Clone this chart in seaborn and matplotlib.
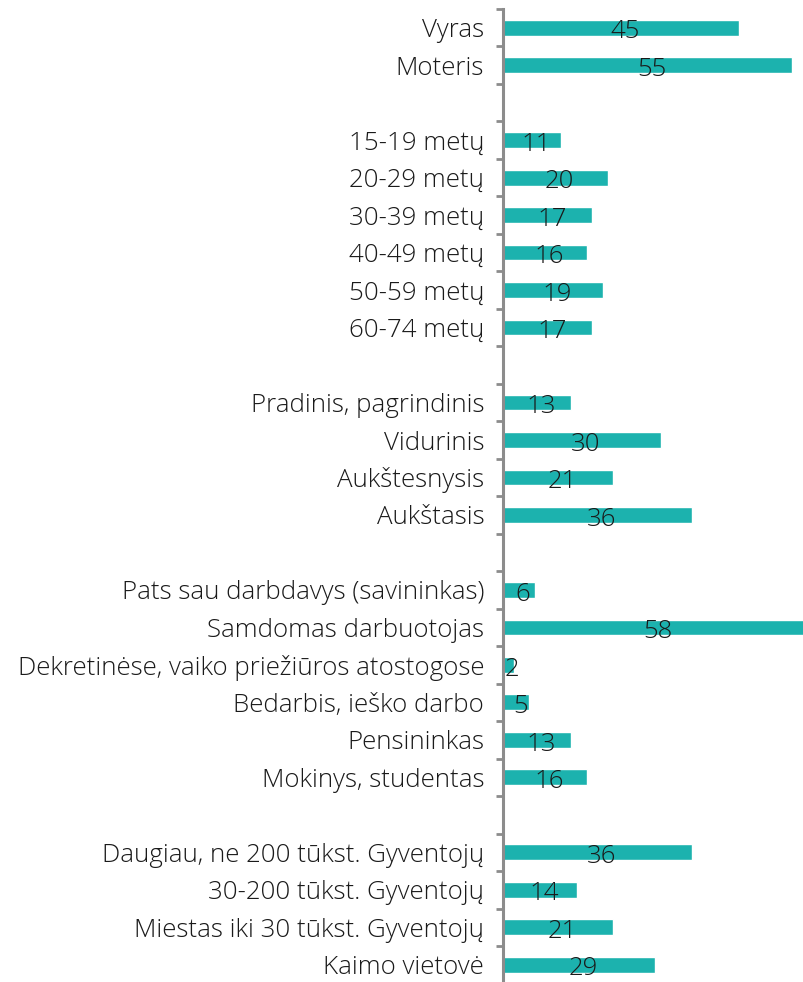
import matplotlib
matplotlib.use("Agg")
import matplotlib.pyplot as plt
import seaborn as sns
import pandas as pd
import numpy as np

categories = ["Vyras", "Moteris",
              "15-19 metų", "20-29 metų", "30-39 metų", "40-49 metų", "50-59 metų", "60-74 metų",
              "Pradinis, pagrindinis", "Vidurinis", "Aukštesnysis", "Aukštasis",
              "Pats sau darbdavys (savininkas)", "Samdomas darbuotojas",
              "Dekretinėse, vaiko priežiūros atostogose", "Bedarbis, ieško darbo",
              "Pensininkas", "Mokinys, studentas",
              "Daugiau, ne 200 tūkst. Gyventojų", "30-200 tūkst. Gyventojų",
              "Miestas iki 30 tūkst. Gyventojų", "Kaimo vietovė"]
values = [45, 55,
          11, 20, 17, 16, 19, 17,
          13, 30, 21, 36,
          6, 58, 2, 5, 13, 16,
          36, 14, 21, 29]
group_sizes = [2, 6, 4, 6, 4]

# order with blank separator rows
order = []
idx = 0
for g, n in enumerate(group_sizes):
    if g > 0:
        order.append(" " * g)
    order.extend(categories[idx:idx + n])
    idx += n

df = pd.DataFrame({"cat": categories, "val": values})

sns.set_theme(style="white")
plt.rcParams["font.family"] = ["Open Sans", "DejaVu Sans"]

fig = plt.figure(figsize=(8.04, 9.82), dpi=100)
ax = fig.add_axes([503 / 804, -0.0015, 301 / 804, 974.5 / 982])

sns.barplot(data=df, y="cat", x="val", order=order, orient="h",
            color="#1CB2AE", width=0.42, saturation=1, ax=ax, errorbar=None)

ax.set_xlim(0, 57.3)
ax.set_ylim(len(order) - 0.5, -0.5)
ax.set_xlabel("")
ax.set_ylabel("")
ax.xaxis.set_visible(False)
for s in ["top", "right", "bottom"]:
    ax.spines[s].set_visible(False)
ax.spines["left"].set_color("#8C8C8C")
ax.spines["left"].set_linewidth(2.2)

ax.set_yticks(np.arange(-0.5, len(order), 1.0), minor=True)
ax.tick_params(axis="y", which="minor", left=True, length=5, width=2, color="#8C8C8C", direction="out")
ax.tick_params(axis="y", which="major", length=0, pad=13.5, labelsize=18.6, labelcolor="#1a1a1a")
for t in ax.get_yticklabels():
    t.set_verticalalignment("center_baseline")
    t.set_fontweight(300)

for cont in ax.containers:
    anns = ax.bar_label(cont, label_type="center", fontsize=18.5, color="#1a1a1a", fontweight=300)
    for a in anns:
        a.xyann = (3, -3)

fig.savefig("out.png", dpi=100)
